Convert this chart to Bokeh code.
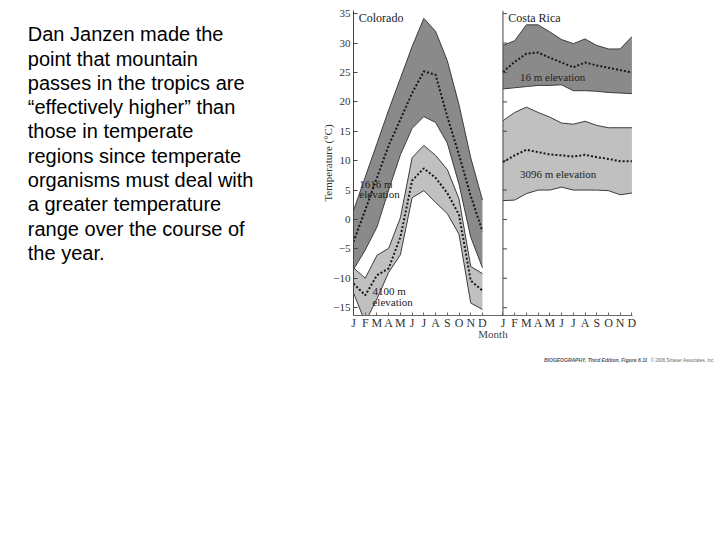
from bokeh.plotting import figure
from bokeh.models import Label, Span, FixedTicker, Range1d, Div
from bokeh.layouts import row, column
from bokeh.embed import file_html
from bokeh.resources import INLINE

# ---------------- data ----------------
months = ["J", "F", "M", "A", "M", "J", "J", "A", "S", "O", "N", "D"]
month_idx = list(range(12))

# Colorado, 1616 m elevation (monthly max / mean / min, deg C)
co_1616_upper = [1.5, 7.2, 12.9, 18.6, 24.0, 29.4, 34.2, 32.0, 27.0, 19.5, 10.5, 3.3]
co_1616_mean = [-3.8, 1.6, 7.1, 12.6, 17.0, 21.5, 25.2, 24.6, 17.5, 11.0, 4.0, -2.0]
co_1616_lower = [-8.5, -5.2, -1.3, 5.0, 11.0, 15.5, 17.5, 16.5, 13.0, 6.0, -3.0, -8.2]
# Colorado, 4100 m elevation
co_4100_upper = [-8.2, -10.0, -6.1, -4.9, 0.3, 10.5, 12.6, 10.9, 8.5, 3.5, -8.0, -9.2]
co_4100_mean = [-10.9, -12.9, -9.5, -8.3, -3.0, 6.6, 8.7, 7.1, 4.5, 0.8, -10.4, -12.1]
co_4100_lower = [-12.5, -17.5, -13.5, -9.0, -6.0, 3.7, 4.9, 2.9, 1.0, -2.5, -14.2, -15.3]
# Costa Rica, 16 m elevation
cr_16_upper = [29.6, 30.4, 33.1, 33.1, 31.9, 30.6, 29.9, 30.7, 29.6, 29.0, 29.0, 31.1]
cr_16_mean = [25.1, 26.8, 28.2, 28.4, 27.5, 26.7, 25.9, 26.7, 26.2, 25.8, 25.4, 25.0]
cr_16_lower = [22.2, 22.4, 22.6, 22.8, 22.8, 22.9, 21.9, 21.9, 21.8, 21.6, 21.5, 21.4]
# Costa Rica, 3096 m elevation
cr_3096_upper = [16.8, 18.2, 19.1, 18.2, 17.4, 16.4, 16.2, 16.7, 16.0, 15.6, 15.6, 15.6]
cr_3096_mean = [9.75, 10.9, 11.85, 11.45, 11.05, 10.9, 10.7, 11.0, 10.6, 10.3, 9.9, 9.9]
cr_3096_lower = [3.2, 3.3, 4.4, 5.0, 5.0, 5.5, 5.0, 5.0, 5.0, 4.9, 4.2, 4.5]

y_ticks = [-15, -10, -5, 0, 5, 10, 15, 20, 25, 30, 35]

para_lines = [
    "Dan Janzen made the",
    "point that mountain",
    "passes in the tropics are",
    "\u201ceffectively higher\u201d than",
    "those in temperate",
    "regions since temperate",
    "organisms must deal with",
    "a greater temperature",
    "range over the course of",
    "the year.",
]

# ---------------- layout / style ----------------
TEXT_W = 300               # width of the slide-text column
CR_OFFSET = 12.75          # x position where the Costa Rica panel starts
X_END = CR_OFFSET + 11.05
Y_MIN, Y_MAX = -16.33, 35.54
FRAME_W, FRAME_H = 279, 305
BORDER_L, BORDER_T, BORDER_R, BORDER_B = 53, 10, 80, 30
TEXT_TOP = FRAME_H - (41.7 - BORDER_T) + 8   # screen y (from frame bottom) of first baseline
LINE_STEP = 24.3

DARK = "#8a8a8a"
LIGHT = "#c0c0c0"
EDGE = "#3c3c3c"
DOT = "#161616"
SERIF = "Liberation Serif"

# ---- left: slide text ----
tf = figure(frame_width=TEXT_W, frame_height=FRAME_H,
            x_range=Range1d(0, TEXT_W), y_range=Range1d(0, FRAME_H),
            x_axis_type=None, y_axis_type=None,
            min_border_left=0, min_border_right=0,
            min_border_top=BORDER_T, min_border_bottom=BORDER_B,
            output_backend="svg", toolbar_location=None)
tf.outline_line_color = None
tf.grid.visible = False
for i, line in enumerate(para_lines):
    tf.add_layout(Label(x=27.3, y=TEXT_TOP - LINE_STEP * i,
                        x_units="screen", y_units="screen",
                        text=line, text_font="Liberation Sans", text_font_size="20px",
                        text_color="black", text_baseline="alphabetic", text_align="left"))

# ---- right: chart ----
p = figure(frame_width=FRAME_W, frame_height=FRAME_H,
           x_range=Range1d(0, X_END), y_range=Range1d(Y_MIN, Y_MAX),
           min_border_left=BORDER_L, min_border_right=BORDER_R,
           min_border_top=BORDER_T, min_border_bottom=BORDER_B,
           output_backend="svg", toolbar_location=None)
p.outline_line_color = None
p.grid.visible = False

cr_x = [CR_OFFSET + i for i in month_idx]


def band(xs, lo, mid, hi, color):
    p.varea(x=xs, y1=lo, y2=hi, fill_color=color)
    p.line(xs, hi, line_color=EDGE, line_width=1)
    p.line(xs, lo, line_color=EDGE, line_width=1)
    p.line(xs, mid, line_color=DOT, line_width=2, line_dash="2 2")


band(month_idx, co_1616_lower, co_1616_mean, co_1616_upper, DARK)
band(month_idx, co_4100_lower, co_4100_mean, co_4100_upper, LIGHT)
band(cr_x, cr_16_lower, cr_16_mean, cr_16_upper, DARK)
band(cr_x, cr_3096_lower, cr_3096_mean, cr_3096_upper, LIGHT)

yax = p.yaxis[0]
yax.ticker = FixedTicker(ticks=y_ticks)
yax.major_tick_in = 4
yax.major_tick_out = 0
yax.minor_tick_line_color = None
yax.axis_line_color = "#444444"
yax.major_tick_line_color = "#444444"
yax.major_label_text_font = SERIF
yax.major_label_text_font_size = "11px"
yax.major_label_text_color = "#333333"
yax.major_label_standoff = 3
yax.axis_label = "Temperature (\u00b0C)"
yax.axis_label_text_font = SERIF
yax.axis_label_text_font_size = "11px"
yax.axis_label_text_font_style = "normal"
yax.axis_label_text_color = "#333333"
yax.axis_label_standoff = -4

x_ticks = list(month_idx) + cr_x
xax = p.xaxis[0]
xax.ticker = FixedTicker(ticks=x_ticks)
xax.major_label_overrides = {t: months[i % 12] for i, t in enumerate(x_ticks)}
xax.major_tick_in = 3
xax.major_tick_out = 0
xax.minor_tick_line_color = None
xax.axis_line_color = "#666666"
xax.major_tick_line_color = "#666666"
xax.major_label_text_font = SERIF
xax.major_label_text_font_size = "12px"
xax.major_label_text_color = "#333333"
xax.major_label_standoff = 0
xax.axis_label = "Month"
xax.axis_label_text_font = SERIF
xax.axis_label_text_font_size = "11px"
xax.axis_label_text_font_style = "normal"
xax.axis_label_text_color = "#444444"
xax.axis_label_standoff = -5

# Costa Rica panel y axis line + inward ticks
p.add_layout(Span(location=CR_OFFSET, dimension="height", line_color="#444444", line_width=1))
tick_len = 4 * X_END / FRAME_W
p.segment(x0=[CR_OFFSET] * len(y_ticks), y0=y_ticks,
          x1=[CR_OFFSET + tick_len] * len(y_ticks), y1=y_ticks,
          line_color="#444444", line_width=1)


def lab(x, y, text, size="11px"):
    p.add_layout(Label(x=x, y=y, text=text, text_font=SERIF, text_font_size=size,
                       text_color="#222222", text_baseline="middle", text_align="left"))


lab(0.45, 34.3, "Colorado", "12px")
lab(CR_OFFSET + 0.45, 34.3, "Costa Rica", "12px")
lab(0.5, 6.1, "1616 m")
lab(0.5, 4.25, "elevation")
lab(1.62, -12.1, "4100 m")
lab(1.62, -13.95, "elevation")
lab(CR_OFFSET + 1.45, 24.3, "16 m elevation")
lab(CR_OFFSET + 1.45, 7.65, "3096 m elevation")

# ---- credit line under the chart ----
credit = Div(
    width=712, height=14,
    text=('<div style="padding-left:539px; margin-top:-1px; white-space:nowrap; '
          'font-family:\'Liberation Sans\'; line-height:6px; color:#555555;">'
          '<span style="font-size:5px; font-weight:bold; font-style:italic;">'
          'BIOGEOGRAPHY, Third Edition, Figure 6.11</span>&nbsp;'
          '<span style="font-size:4.5px; color:#666666;">'
          '\u00a9 2006 Sinauer Associates, Inc.</span></div>'),
)

layout = column(row(tf, p, spacing=0), credit, spacing=0)
open("out.html", "w").write(file_html(layout, INLINE))
